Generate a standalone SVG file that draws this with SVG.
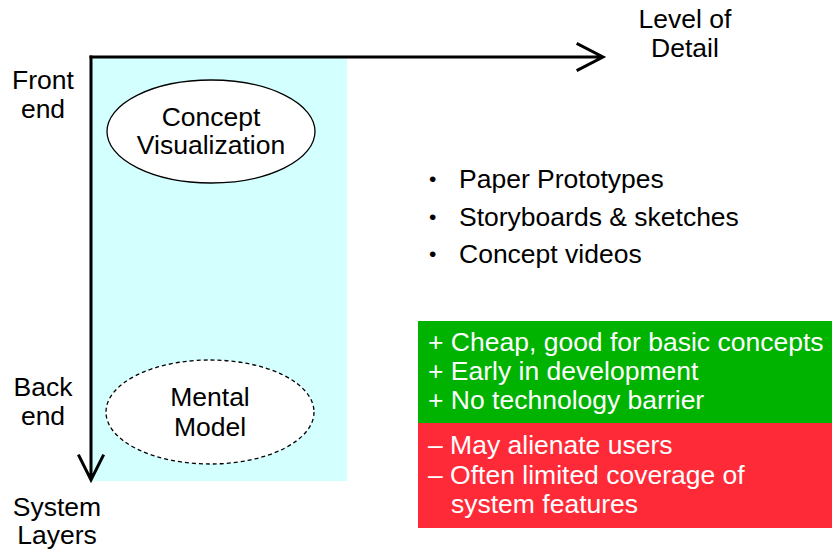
<svg xmlns="http://www.w3.org/2000/svg" width="832" height="551" viewBox="0 0 832 551">
  <style>
    text { font-family: "Liberation Sans", Arial, sans-serif; font-size: 26.5px; fill: #000; }
    .c { text-anchor: middle; }
    .w { fill: #fff; }
    .b { font-size: 21px; }
    .axis { stroke: #000; stroke-width: 3; fill: none; stroke-linecap: square; }
    .node { fill: #fff; stroke: #000; stroke-width: 1.3; }
    .dash { stroke-dasharray: 4 3; }
  </style>
  <rect width="832" height="551" fill="#fff"/>
  <!-- low-detail column -->
  <rect x="91" y="57" width="256" height="424" fill="#D4FFFF"/>

  <g id="axes">
    <path class="axis" d="M91 57 H602 M578 44 L603 57 L578 70"/>
    <path class="axis" d="M91 57 V479 M79 456 L91 480 L103 456"/>
  </g>

  <g id="axis-labels">
    <text class="c" x="685" y="28">Level of</text>
    <text class="c" x="685" y="57">Detail</text>
    <text class="c" x="43" y="89">Front</text>
    <text class="c" x="43" y="118">end</text>
    <text class="c" x="43" y="396">Back</text>
    <text class="c" x="43" y="425">end</text>
    <text class="c" x="57" y="516">System</text>
    <text class="c" x="57" y="544">Layers</text>
  </g>

  <g id="concept-visualization">
    <ellipse class="node" cx="211" cy="131.5" rx="104" ry="51.5"/>
    <text class="c" x="211" y="126">Concept</text>
    <text class="c" x="211" y="154">Visualization</text>
  </g>

  <g id="mental-model">
    <ellipse class="node dash" cx="210" cy="412" rx="104" ry="52"/>
    <text class="c" x="210" y="406">Mental</text>
    <text class="c" x="210" y="436">Model</text>
  </g>

  <g id="methods">
    <text class="b" x="429" y="186">•</text>
    <text x="459" y="188">Paper Prototypes</text>
    <text class="b" x="429" y="224">•</text>
    <text x="459" y="226">Storyboards &amp; sketches</text>
    <text class="b" x="429" y="261">•</text>
    <text x="459" y="263">Concept videos</text>
  </g>

  <g id="pros">
    <rect x="418" y="321" width="414" height="102" fill="#00B300"/>
    <text class="w" x="428" y="351">+ Cheap, good for basic concepts</text>
    <text class="w" x="428" y="380">+ Early in development</text>
    <text class="w" x="428" y="409">+ No technology barrier</text>
  </g>

  <g id="cons">
    <rect x="418" y="423" width="414" height="105" fill="#FF2A38"/>
    <text class="w" x="428" y="454">– May alienate users</text>
    <text class="w" x="428" y="484">– Often limited coverage of</text>
    <text class="w" x="451" y="513">system features</text>
  </g>
</svg>
